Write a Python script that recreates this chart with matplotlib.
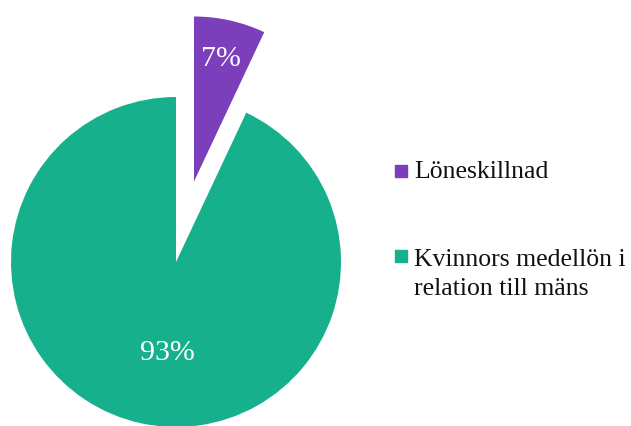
import matplotlib.pyplot as plt
from matplotlib.patches import Rectangle

# andelar i procent
etiketter = ['Löneskillnad', 'Kvinnors medellön i\nrelation till mäns']
andelar = [7, 93]
farger = ['#7b3fbc', '#17b08d']

plt.rcParams['font.family'] = ['Liberation Serif', 'DejaVu Serif']

W, H = 631, 426
fig = plt.figure(figsize=(W / 100, H / 100), dpi=100)
ax = fig.add_axes([0, 0, 1, 1])

# cirkeldiagram, lönegapet utdraget
wedges, texts, autotexts = ax.pie(andelar, colors=farger, startangle=90,
                                  counterclock=False, explode=[0.5, 0],
                                  autopct='%1.0f%%', pctdistance=0.76,
                                  textprops=dict(color='white', fontsize=21.5))
autotexts[1].set_position((-0.055, -0.552))

# skala: radie 165 px, centrum i (176, 262) px
r, cx, cy = 165.0, 176.0, 262.0
ax.set_xlim(-cx / r, (W - cx) / r)
ax.set_ylim(-(H - cy) / r, cy / r)
ax.set_aspect('equal')
ax.axis('off')

# teckenförklaring till höger
def fx(px):
    return px / W

def fy(py):
    return 1 - py / H

rader = [(171, 178), (256, 266)]
for (mitt, bas), lab, col in zip(rader, etiketter, farger):
    fig.add_artist(Rectangle((fx(395), fy(mitt + 6)), 12 / W, 12 / H,
                             transform=fig.transFigure, color=col))
    delar = lab.split('\n')
    for i, rad in enumerate(delar):
        fig.text(fx(414), fy(bas + 29 * i), rad, fontsize=18.5,
                 va='baseline', ha='left', color='#111111')

fig.savefig('out.png', dpi=100)
